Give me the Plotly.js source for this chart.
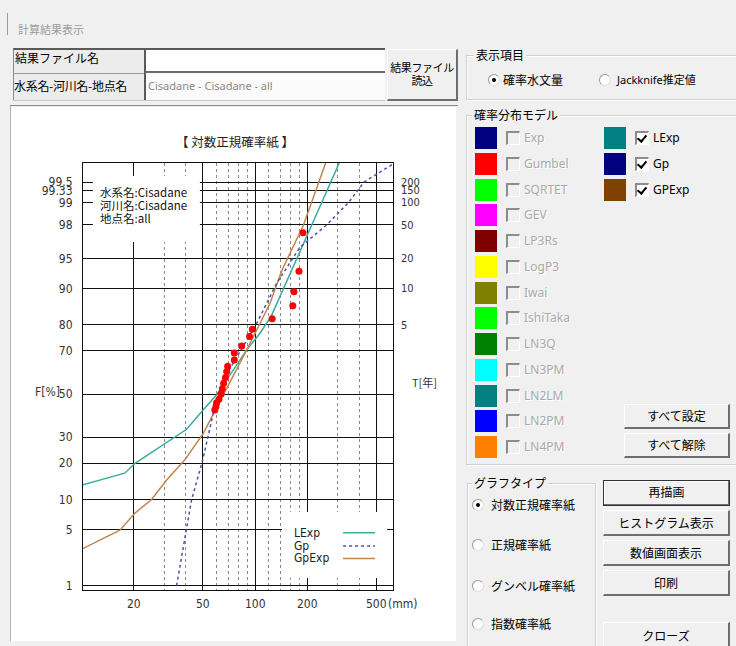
<!DOCTYPE html>
<html><head><meta charset="utf-8">
<script src="https://cdn.plot.ly/plotly-3.0.1.min.js"></script>
<style>
body{margin:0;width:736px;height:646px;background:#f0f0f0;overflow:hidden;position:relative;font-family:"Noto Sans CJK JP",sans-serif;font-size:12px;color:#000;}
.a{position:absolute;white-space:nowrap;}
.lbl{line-height:16px;}
.grp{position:absolute;border:1px solid #cfcfcf;box-shadow:inset 1px 1px 0 #fff,1px 1px 0 #fff;}
.gt{position:absolute;background:#f0f0f0;padding:0 2px;line-height:16px;font-size:12px;white-space:nowrap;}
.sw{position:absolute;width:22px;height:22px;}
.cb{position:absolute;width:11px;height:11px;border-left:2px solid #8c8c8c;border-top:2px solid #8c8c8c;border-right:1px solid #fff;border-bottom:1px solid #fff;background:#f0f0f0;}
.cb.on{background:#fff;}
.cb.on::after{content:"";position:absolute;left:2px;top:0px;width:4px;height:7px;border-right:2px solid #000;border-bottom:2px solid #000;transform:rotate(40deg);}
.cl{position:absolute;font-family:"Noto Sans","Liberation Sans",sans-serif;font-size:12px;line-height:16px;color:#a9a9a9;text-shadow:1px 1px 0 #fff;}
.cl.on{color:#000;text-shadow:none;}
.rd{position:absolute;width:10px;height:10px;border-radius:50%;background:#fff;border:1px solid #9a9a9a;border-right-color:#ddd;border-bottom-color:#ddd;}
.rd.on::after{content:"";position:absolute;left:3px;top:3px;width:4px;height:4px;border-radius:50%;background:#000;}
.btn{position:absolute;background:#f0f0f0;border-top:1px solid #fff;border-left:1px solid #fff;border-right:2px solid #6e6e6e;border-bottom:2px solid #6e6e6e;box-sizing:border-box;text-align:center;font-size:12px;white-space:nowrap;}
</style></head><body>

<div class="a" style="left:7px;top:13px;width:1px;height:22px;background:#9a9a9a"></div>
<div class="a lbl" style="left:18px;top:21px;font-size:11px;color:#9c9c9c">計算結果表示</div>

<!-- file table -->
<div class="a" style="left:13px;top:48px;width:131px;height:25px;background:#ececec;border-top:2px solid #5a5a5a;border-left:1px solid #8a8a8a;box-sizing:border-box"></div>
<div class="a" style="left:144px;top:48px;width:241px;height:25px;background:#fff;border-top:2px solid #5a5a5a;border-left:2px solid #5a5a5a;border-bottom:2px solid #6a6a6a;box-sizing:border-box"></div>
<div class="a" style="left:13px;top:73px;width:131px;height:28px;background:#ececec;border-left:1px solid #8a8a8a;border-top:1px solid #9a9a9a;box-sizing:border-box"></div>
<div class="a" style="left:144px;top:73px;width:241px;height:28px;background:#fbfbfb;border-left:2px solid #5a5a5a;box-sizing:border-box"></div>
<div class="a" style="left:13px;top:100px;width:372px;height:1px;background:#c8c8c8"></div>
<div class="a lbl" style="left:15px;top:50px;font-size:12px">結果ファイル名</div>
<div class="a lbl" style="left:14px;top:78px;font-size:12px;letter-spacing:-0.3px">水系名-河川名-地点名</div>
<div class="a lbl" style="left:148px;top:78px;font-family:'Noto Sans','Liberation Sans',sans-serif;font-size:11px;color:#8a8a8a">Cisadane - Cisadane - all</div>
<div class="btn" style="left:387px;top:49px;width:71px;height:52px;padding-top:11px;line-height:13px;font-size:11px;letter-spacing:-0.4px">結果ファイル<br>読込</div>

<!-- chart panel -->
<div class="a" style="left:10px;top:105px;width:448px;height:1px;background:#8a8a8a"></div>
<div class="a" style="left:10px;top:106px;width:1px;height:535px;background:#b0b0b0"></div>
<div id="chart" class="a" style="left:11px;top:107px;width:445px;height:534px;background:#fff"></div>

<!-- 表示項目 -->
<div class="grp" style="left:466px;top:55px;width:290px;height:43px"></div>
<div class="gt" style="left:474px;top:47px">表示項目</div>
<div class="rd on" style="left:488px;top:74px"></div>
<div class="a lbl" style="left:503px;top:72px">確率水文量</div>
<div class="rd" style="left:599px;top:74px"></div>
<div class="a lbl" style="left:617px;top:72px;font-family:'Noto Sans','Noto Sans CJK JP',sans-serif;font-size:11px">Jackknife推定値</div>

<!-- 確率分布モデル -->
<div class="grp" style="left:466px;top:115px;width:290px;height:348px"></div>
<div class="gt" style="left:472px;top:107px">確率分布モデル</div>
<div id="models"></div>
<div class="btn" style="left:624px;top:404px;width:106px;height:25px;line-height:22px">すべて設定</div>
<div class="btn" style="left:624px;top:433px;width:106px;height:25px;line-height:22px">すべて解除</div>

<!-- グラフタイプ -->
<div class="grp" style="left:467px;top:483px;width:127px;height:180px"></div>
<div class="gt" style="left:472px;top:475px">グラフタイプ</div>
<div class="rd on" style="left:472px;top:499px"></div>
<div class="a lbl" style="left:491px;top:497px">対数正規確率紙</div>
<div class="rd" style="left:472px;top:539px"></div>
<div class="a lbl" style="left:491px;top:537px">正規確率紙</div>
<div class="rd" style="left:472px;top:580px"></div>
<div class="a lbl" style="left:491px;top:578px">グンベル確率紙</div>
<div class="rd" style="left:472px;top:618px"></div>
<div class="a lbl" style="left:491px;top:616px">指数確率紙</div>

<div class="btn" style="left:603px;top:480px;width:127px;height:26px;line-height:22px;border:1px solid #333;box-shadow:inset -1px -1px 0 #6e6e6e,inset 1px 1px 0 #fff">再描画</div>
<div class="btn" style="left:603px;top:510px;width:127px;height:26px;line-height:24px">ヒストグラム表示</div>
<div class="btn" style="left:603px;top:540px;width:127px;height:26px;line-height:24px">数値画面表示</div>
<div class="btn" style="left:603px;top:570px;width:127px;height:26px;line-height:24px">印刷</div>
<div class="btn" style="left:603px;top:622px;width:127px;height:30px;line-height:26px">クローズ</div>

<script>
// ---------- model list (UI) ----------
const modelNames = ['Exp','Gumbel','SQRTET','GEV','LP3Rs','LogP3','Iwai','IshiTaka','LN3Q','LN3PM','LN2LM','LN2PM','LN4PM'];
const modelColors = ['#000080','#ff0000','#00ff00','#ff00ff','#800000','#ffff00','#808000','#00ff00','#008000','#00ffff','#008080','#0000ff','#ff8000'];
const selNames = ['LExp','Gp','GPExp'];
const selColors = ['#008080','#000080','#804000'];

// ---------- chart data ----------
const xTickVals = [20, 50, 100, 200, 500];
const xTickText = ['20', '50', '100', '200', '500'];
const xMinorVals = [30, 40, 60, 70, 80, 90, 120, 140, 160, 180, 300, 400];
const fTickVals = [1, 5, 10, 20, 30, 50, 70, 80, 90, 95, 98, 99, 99.33, 99.5];
const fTickText = ['1', '5', '10', '20', '30', '50', '70', '80', '90', '95', '98', '99', '99.33', '99.5'];
const tTickVals = [5, 10, 20, 50, 100, 150, 200];

// observed (plotting positions)
const obsX = [189, 179, 167.5, 165, 125.5, 96.5, 93, 83.8, 76, 76, 69.6, 68.7, 67.6, 66, 64.8, 63.8, 62, 60.1, 59.6, 58.7];
const obsF = [97.5, 93.2, 89.3, 85.8, 82.0, 78.4, 75.8, 72.0, 69.1, 66.0, 63.2, 60.8, 58.0, 55.2, 52.5, 50.0, 47.5, 45.8, 44.0, 42.3];

// fitted curves (mm, non-exceedance %)
const lexpX = [10.0, 17.8, 20.4, 40.4, 49.3, 60.1, 89.6, 106.9, 124.7, 162, 212, 305, 330];
const lexpF = [13.4, 16.8, 20.0, 33.4, 41.5, 49.6, 70.4, 77.0, 83.1, 93.2, 98.0, 99.75, 99.85];
const gpX = [35.4, 40.4, 43.2, 49.95, 57.5, 65.7, 102.3, 133.3, 181.8, 258, 345, 424, 600, 650];
const gpF = [1.0, 4.9, 10, 21, 40.7, 56.8, 80.5, 91.1, 96.3, 98.0, 99.0, 99.5, 99.73, 99.76];
const gpexpX = [10.0, 16.7, 20.4, 25.4, 31, 39.5, 50.4, 65.7, 89.6, 122, 143, 190, 259, 280];
const gpexpF = [2.95, 4.9, 7.4, 10, 14.8, 21.2, 31.6, 49.5, 70.4, 86.5, 93.4, 98.0, 99.78, 99.85];

// ---------- build UI list ----------
(function(){
  const host = document.getElementById('models');
  let h = '';
  modelNames.forEach((n,i)=>{
    const top = 127 + i*25.75;
    h += `<div class="sw" style="left:475px;top:${top}px;background:${modelColors[i]}"></div>`;
    h += `<div class="cb" style="left:506px;top:${top+4}px"></div>`;
    h += `<div class="cl" style="left:524px;top:${top+3}px">${n}</div>`;
  });
  selNames.forEach((n,i)=>{
    const top = 127 + i*25.75;
    h += `<div class="sw" style="left:604px;top:${top}px;background:${selColors[i]}"></div>`;
    h += `<div class="cb on" style="left:635px;top:${top+4}px"></div>`;
    h += `<div class="cl on" style="left:653px;top:${top+3}px">${n}</div>`;
  });
  host.innerHTML = h;
})();

// ---------- probit ----------
function probit(p){
  const a=[-3.969683028665376e+01,2.209460984245205e+02,-2.759285104469687e+02,1.383577518672690e+02,-3.066479806614716e+01,2.506628277459239e+00];
  const b=[-5.447609879822406e+01,1.615858368580409e+02,-1.556989798598866e+02,6.680131188771972e+01,-1.328068155288572e+01];
  const c=[-7.784894002430293e-03,-3.223964580411365e-01,-2.400758277161838e+00,-2.549732539343734e+00,4.374664141464968e+00,2.938163982698783e+00];
  const d=[7.784695709041462e-03,3.224671290700398e-01,2.445134137142996e+00,3.754408661907416e+00];
  const pl=0.02425, ph=1-pl; let q,r;
  if(p<pl){q=Math.sqrt(-2*Math.log(p));return (((((c[0]*q+c[1])*q+c[2])*q+c[3])*q+c[4])*q+c[5])/((((d[0]*q+d[1])*q+d[2])*q+d[3])*q+1);}
  if(p<=ph){q=p-0.5;r=q*q;return (((((a[0]*r+a[1])*r+a[2])*r+a[3])*r+a[4])*r+a[5])*q/(((((b[0]*r+b[1])*r+b[2])*r+b[3])*r+b[4])*r+1);}
  q=Math.sqrt(-2*Math.log(1-p));return -(((((c[0]*q+c[1])*q+c[2])*q+c[3])*q+c[4])*q+c[5])/((((d[0]*q+d[1])*q+d[2])*q+d[3])*q+1);
}
const zF = f => probit(f/100);
const zT = t => probit(1 - 1/t);

const yRange = [-2.3815, 2.8068];
const xRange = [1.0104, 2.7937];
const numFont = '"Liberation Sans Narrow","DejaVu Sans Condensed","Liberation Sans",sans-serif';
const cjkFont = '"Noto Sans CJK JP",sans-serif';

const traces = [
  {x: lexpX, y: lexpF.map(zF), type:'scatter', mode:'lines', line:{color:'#3aab9c', width:1.5}, hoverinfo:'skip'},
  {x: gpexpX, y: gpexpF.map(zF), type:'scatter', mode:'lines', line:{color:'#c08650', width:1.5}, hoverinfo:'skip'},
  {x: gpX, y: gpF.map(zF), type:'scatter', mode:'lines', line:{color:'#5050a8', width:1.5, dash:'3px,3px'}, hoverinfo:'skip'},
  {x: obsX, y: obsF.map(zF), type:'scatter', mode:'markers', yaxis:'y2', marker:{color:'#ff0000', size:7, line:{width:0}}, hoverinfo:'skip'}
];

function note(text, x, y, opts){
  return Object.assign({text:text, xref:'paper', yref:'paper', x:x, y:y, xanchor:'center', yanchor:'middle', showarrow:false,
    font:{family:numFont, size:12, color:'#333'}}, opts||{});
}

const annotations = [
  note('【\u00a0対数正規確率紙\u00a0】', 0.49, 1.05, {font:{family:cjkFont, size:12.5, color:'#222'}}),
  note('水系名:Cisadane', 0.048, 0.9322, {xanchor:'left', font:{family:cjkFont, size:11.5, color:'#111'}}),
  note('河川名:Cisadane', 0.048, 0.9017, {xanchor:'left', font:{family:cjkFont, size:11.5, color:'#111'}}),
  note('地点名:all', 0.048, 0.8712, {xanchor:'left', font:{family:cjkFont, size:11.5, color:'#111'}}),
  note('F[%]', -0.113, 0.4637),
  note('T[年]', 1.1, 0.487, {font:{family:cjkFont, size:11, color:'#333'}}),
  note('(mm)', 1.032, -0.033),
  note('LExp', 0.674, 0.1342, {xanchor:'left', font:{family:numFont, size:12, color:'#222'}}),
  note('Gp', 0.674, 0.1030, {xanchor:'left', font:{family:numFont, size:12, color:'#222'}}),
  note('GpExp', 0.674, 0.0738, {xanchor:'left', font:{family:numFont, size:12, color:'#222'}})
];
// x tick labels placed through the log axis
xTickVals.forEach((v,i)=>{
  annotations.push({text:xTickText[i], xref:'x', yref:'paper', x:Math.log10(v), y:-0.033, xanchor:'center', yanchor:'middle',
    showarrow:false, font:{family:numFont, size:12, color:'#333'}});
});

const layout = {
  width:445, height:534,
  margin:{l:72, r:63, t:56, b:51, pad:0},
  paper_bgcolor:'#ffffff', plot_bgcolor:'#ffffff',
  showlegend:false,
  font:{family:numFont, size:12, color:'#333'},
  xaxis:{type:'log', range:xRange, tickvals:xTickVals, ticktext:xTickText, ticks:'', showticklabels:false,
    showgrid:true, gridcolor:'#111', gridwidth:1, zeroline:false,
    showline:true, mirror:true, linecolor:'#111', linewidth:1,
    minor:{tickvals:xMinorVals, showgrid:true, gridcolor:'#8a8a8a', griddash:'dot', gridwidth:1, ticks:''}},
  yaxis:{range:yRange, tickvals:fTickVals.map(zF), ticktext:fTickText, ticks:'',
    showgrid:true, gridcolor:'#111', gridwidth:1, zeroline:false,
    showline:true, mirror:true, linecolor:'#111', linewidth:1, ticklabelstandoff:7,
    tickfont:{family:numFont, size:12, color:'#333'}},
  yaxis2:{range:yRange, overlaying:'y', side:'right', tickvals:tTickVals.map(zT), ticktext:tTickVals.map(String),
    ticks:'', showgrid:false, zeroline:false, showline:false, ticklabelstandoff:7,
    tickfont:{family:numFont, size:11, color:'#333'}},
  shapes:[
    {type:'rect', xref:'paper', yref:'paper', x0:0.032, x1:0.377, y0:0.815, y1:0.9696, fillcolor:'#fff', line:{width:0}, layer:'above'},
    {type:'rect', xref:'paper', yref:'paper', x0:0.642, x1:0.981, y0:0.028, y1:0.1827, fillcolor:'#fff', line:{width:0}, layer:'above'},
    {type:'line', xref:'paper', yref:'paper', x0:0.839, x1:0.942, y0:0.1342, y1:0.1342, line:{color:'#3aab9c', width:1.5}, layer:'above'},
    {type:'line', xref:'paper', yref:'paper', x0:0.839, x1:0.942, y0:0.1030, y1:0.1030, line:{color:'#5050a8', width:1.5, dash:'3px,3px'}, layer:'above'},
    {type:'line', xref:'paper', yref:'paper', x0:0.839, x1:0.942, y0:0.0738, y1:0.0738, line:{color:'#c08650', width:1.5}, layer:'above'}
  ],
  annotations: annotations
};
Plotly.newPlot('chart', traces, layout, {staticPlot:true, displayModeBar:false});
</script>
</body></html>
